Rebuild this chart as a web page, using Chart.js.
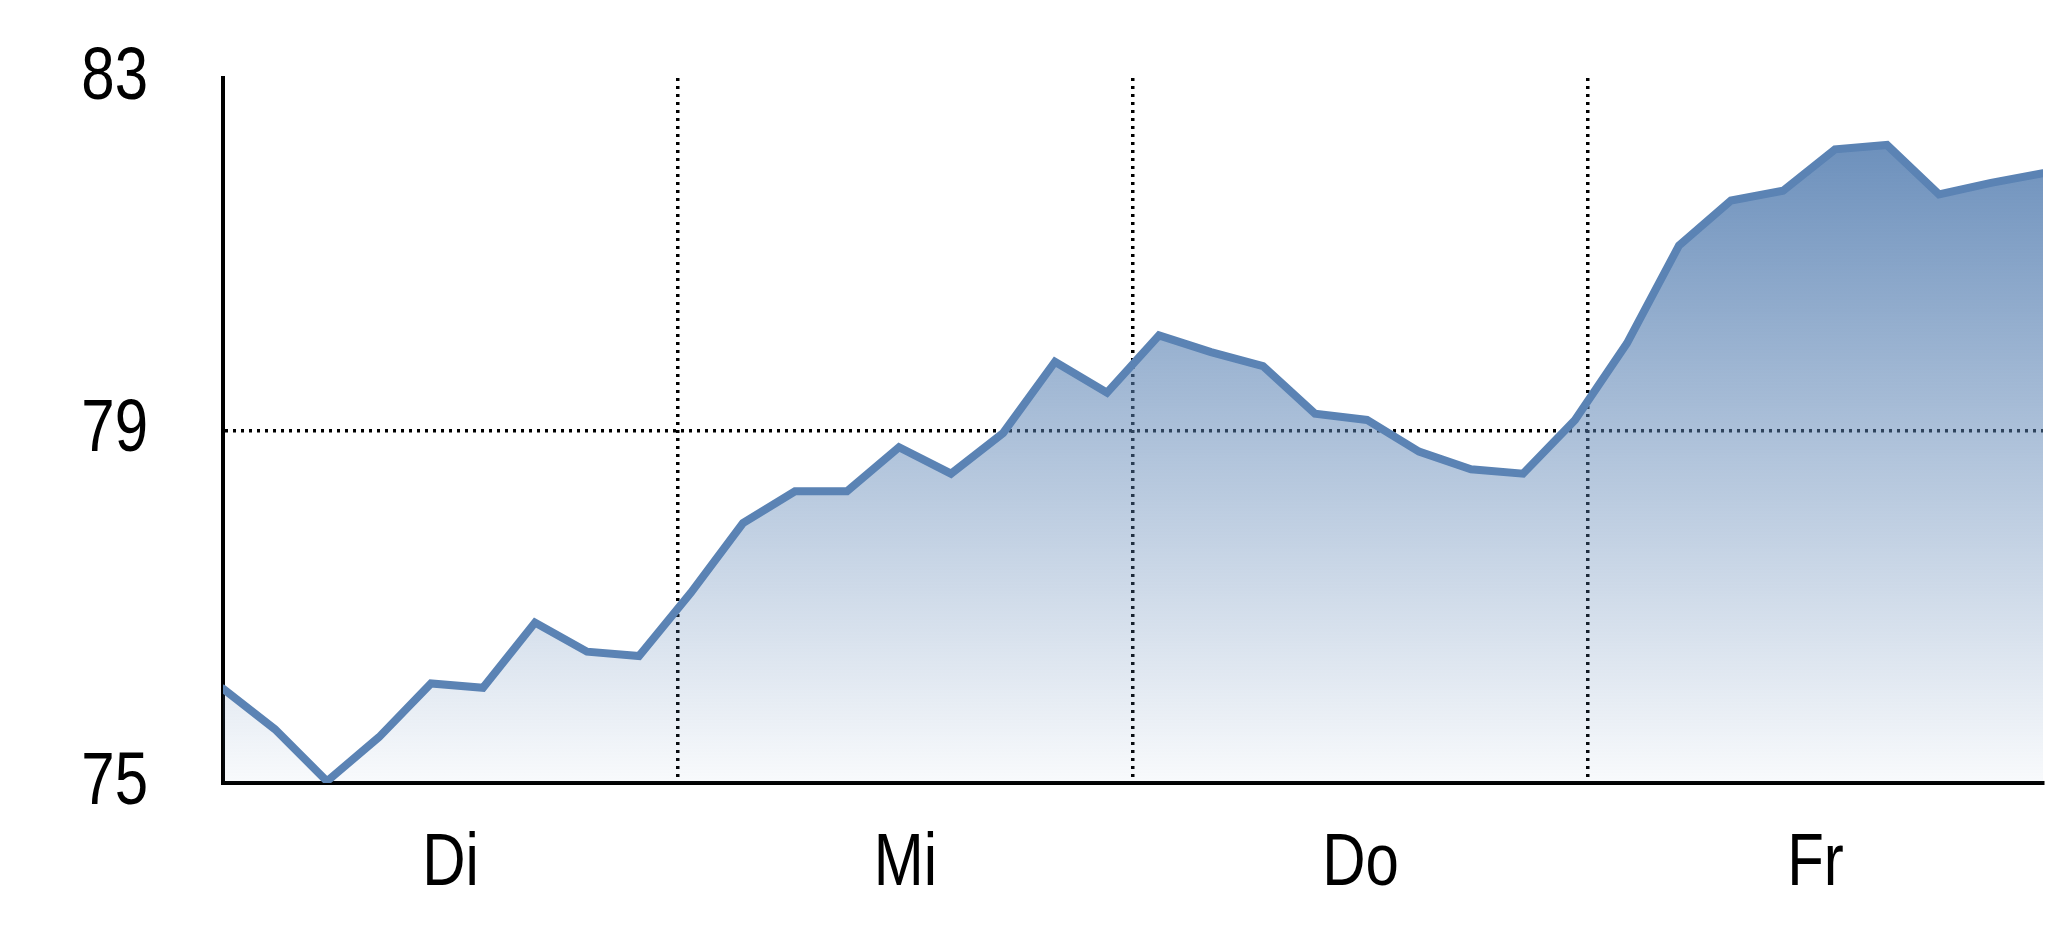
<!DOCTYPE html>
<html>
<head>
<meta charset="utf-8">
<script src="https://cdn.jsdelivr.net/npm/chart.js@4"></script>
<style>
  html, body { margin: 0; padding: 0; background: #fff; }
  #wrap { width: 2048px; height: 937px; }
</style>
</head>
<body>
<div id="wrap"><canvas id="chart" width="2048" height="937"></canvas></div>
<script>
// day labels and where each day starts/ends (in sample index units)
const dayLabels = ['Di', 'Mi', 'Do', 'Fr'];
const dayBounds = [0, 8.75, 17.5, 26.25, 35];
const yTicks = [75, 79, 83];
const values = [
  76.07, 75.61, 75.02, 75.52, 76.13, 76.08, 76.82, 76.49, 76.44,
  77.16, 77.95, 78.31, 78.31, 78.81, 78.51, 78.97, 79.78, 79.43,
  80.08, 79.89, 79.73, 79.19, 79.12, 78.76, 78.56, 78.51, 79.12,
  79.99, 81.10, 81.61, 81.72, 82.19, 82.24, 81.68, 81.81, 81.92
];

const FONT = "'Liberation Sans', Arial, sans-serif";
const LINE = 'rgb(91, 131, 180)';
const dayMids = dayLabels.map((d, i) => (dayBounds[i] + dayBounds[i + 1]) / 2);
const innerBounds = dayBounds.slice(1, -1);
const yMin = yTicks[0], yMax = yTicks[yTicks.length - 1];

// no narrow font installed, so squeeze the axis labels sideways
const narrowText = {
  id: 'narrowText',
  beforeDraw(chart) {
    Object.values(chart.scales).forEach(s => {
      if (s._narrow) return;
      const orig = s.drawLabels;
      s.drawLabels = function (area) {
        const c = this.ctx;
        const fill = c.fillText;
        c.fillText = function (t, x, y) {
          c.save();
          c.translate(x, y);
          c.scale(0.8, 1);
          fill.call(c, t, 0, 0);
          c.restore();
        };
        orig.call(this, area);
        delete c.fillText;
      };
      s._narrow = true;
    });
  }
};

const ctx = document.getElementById('chart').getContext('2d');
const chart = new Chart(ctx, {
  type: 'line',
  data: {
    datasets: [{
      data: values.map((v, i) => ({ x: i, y: v })),
      borderColor: LINE,
      borderWidth: 8,
      borderCapStyle: 'round',
      pointRadius: 0,
      tension: 0,
      fill: 'start',
      backgroundColor: (c) => {
        const area = c.chart.chartArea;
        if (!area) return 'rgba(91,131,180,0.5)';
        const g = c.chart.ctx.createLinearGradient(0, area.top, 0, area.bottom);
        g.addColorStop(0, 'rgba(91,131,180,0.98)');
        g.addColorStop(1, 'rgba(91,131,180,0.04)');
        return g;
      }
    }]
  },
  plugins: [narrowText],
  options: {
    responsive: false,
    animation: false,
    devicePixelRatio: 1,
    layout: { padding: { top: 78, right: 5, left: 0, bottom: 0 } },
    plugins: { legend: { display: false }, tooltip: { enabled: false } },
    scales: {
      x: {
        type: 'linear',
        min: dayBounds[0],
        max: dayBounds[dayBounds.length - 1],
        afterBuildTicks: (s) => {
          s.ticks = dayMids.concat(innerBounds).sort((a, b) => a - b).map(v => ({ value: v }));
        },
        afterFit: (s) => { s.height = 154; s.paddingLeft = 0; s.paddingRight = 0; },
        grid: {
          drawTicks: false,
          lineWidth: 3.5,
          color: (c) => (c.tick && innerBounds.includes(c.tick.value)) ? '#000' : 'rgba(0,0,0,0)'
        },
        border: { display: true, color: '#000', width: 4, dash: [3, 5] },
        ticks: {
          autoSkip: false,
          maxRotation: 0,
          padding: 36,
          color: '#000',
          font: { family: FONT, size: 75 },
          callback: (v) => {
            const i = dayMids.indexOf(v);
            return i >= 0 ? dayLabels[i] : '';
          }
        }
      },
      y: {
        min: yMin,
        max: yMax,
        afterBuildTicks: (s) => { s.ticks = yTicks.map(v => ({ value: v })); },
        afterFit: (s) => { s.width = 223; s.paddingTop = 0; s.paddingBottom = 0; },
        grid: {
          drawTicks: false,
          lineWidth: 3.5,
          color: (c) => (c.tick && c.tick.value > yMin && c.tick.value < yMax) ? '#000' : 'rgba(0,0,0,0)'
        },
        border: { display: true, color: '#000', width: 4, dash: [3, 5] },
        ticks: {
          padding: 75,
          color: '#000',
          font: { family: FONT, size: 75 }
        }
      }
    }
  }
});
</script>
</body>
</html>
